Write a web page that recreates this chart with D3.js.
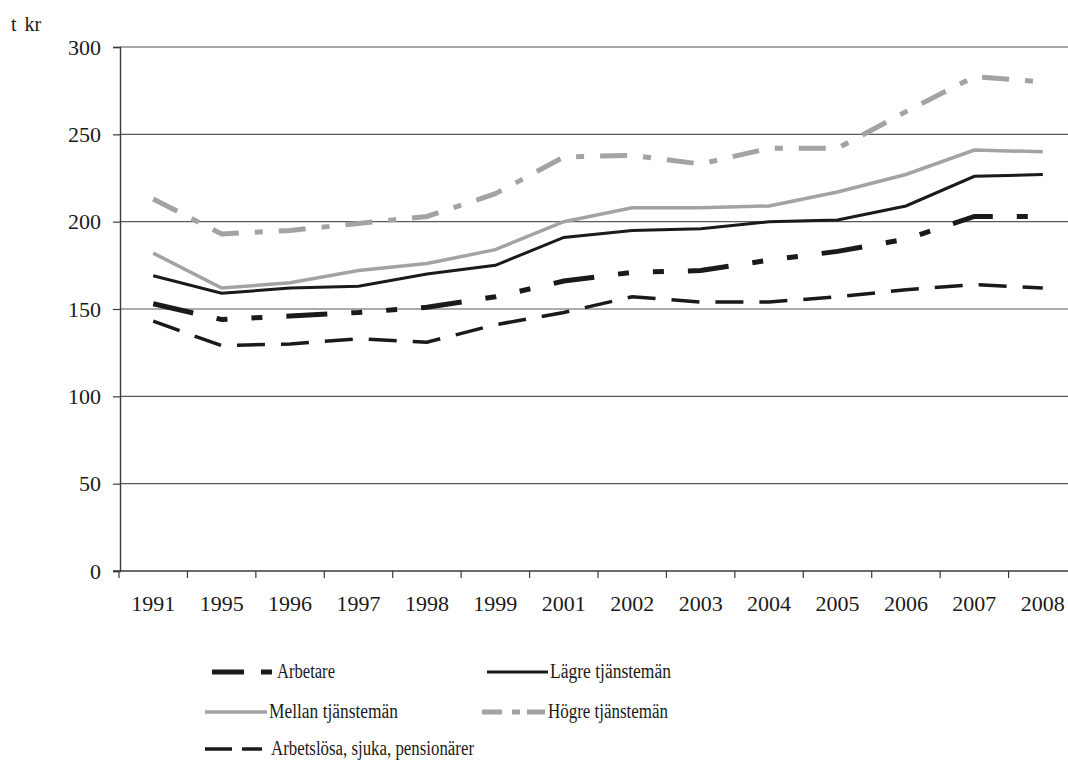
<!DOCTYPE html>
<html><head><meta charset="utf-8">
<script src="https://cdn.jsdelivr.net/npm/d3@7"></script>
<style>
html,body{margin:0;padding:0;background:#fff;}
svg text{font-family:"Liberation Serif","DejaVu Serif",serif;fill:#1a1a1a;}
</style></head>
<body><svg id="chart" width="1068" height="760"></svg>
<script>
const years = ["1991","1995","1996","1997","1998","1999","2001","2002","2003","2004","2005","2006","2007","2008"];
const yTicks = [0,50,100,150,200,250,300];
const arbetare        = [153,144,146,148,151,157,166,171,172,178,183,190,203,203];
const lagre           = [169,159,162,163,170,175,191,195,196,200,201,209,226,227];
const mellan          = [182,162,165,172,176,184,200,208,208,209,217,227,241,240];
const hogre           = [213,193,195,199,203,216,237,238,233,242,242,263,283,280];
const arbetslosa      = [143,129,130,133,131,141,148,157,154,154,157,161,164,162];
const seriesNames = ["Arbetare","Lägre tjänstemän","Mellan tjänstemän","Högre tjänstemän","Arbetslösa, sjuka, pensionärer"];

const series = [
  {name: seriesNames[0], values: arbetare, color:"#1a1a1a", width:5, dash:"41,24,11,24,11,24", legDash:"32,17,11,0", col:0, row:0, lx1:212, lx2:272, tx:277, tw:58},
  {name: seriesNames[1], values: lagre, color:"#1a1a1a", width:3, dash:null, legDash:null, col:1, row:0, lx1:487, lx2:548, tx:550, tw:121},
  {name: seriesNames[2], values: mellan, color:"#a3a3a3", width:3.5, dash:null, legDash:null, col:0, row:1, lx1:205, lx2:267, tx:269, tw:129},
  {name: seriesNames[3], values: hogre, color:"#a3a3a3", width:5, dash:"27,16,8,16", legDash:"20,10,8,7,20", col:1, row:1, lx1:482, lx2:545, tx:548, tw:120},
  {name: seriesNames[4], values: arbetslosa, color:"#1a1a1a", width:3.5, dash:"28,16", legDash:"27,10,22", col:0, row:2, lx1:205, lx2:262, tx:271, tw:203}
];

const svg = d3.select("#chart");
const pLeft = 120, pRight = 1077, pTop = 47, pBottom = 571;

const x = d3.scaleBand().domain(years).range([pLeft-1, pRight]).padding(0);
const y = d3.scaleLinear().domain([0,300]).range([pBottom, pTop]);
const cx = d => x(d) + x.bandwidth()/2;

// gridlines
svg.append("g").selectAll("line").data(yTicks.filter(v => v > 0)).join("line")
  .attr("x1", pLeft).attr("x2", 1068)
  .attr("y1", d => y(d)).attr("y2", d => y(d))
  .attr("stroke", d => d === 300 ? "#a8a8a8" : "#5a5a5a")
  .attr("stroke-width", d => d === 300 ? 2 : 1.2);

// y axis
const yAxis = svg.append("g").attr("transform", `translate(${pLeft},0)`)
  .call(d3.axisLeft(y).tickValues(yTicks).tickSize(7).tickPadding(12));
yAxis.select(".domain").attr("stroke", "#3a3a3a").attr("stroke-width", 1.4);
yAxis.selectAll(".tick line").attr("stroke", "#3a3a3a").attr("stroke-width", 1.2);
yAxis.selectAll(".tick text").attr("font-size", 22).attr("font-family", "Liberation Serif").attr("fill", "#1a1a1a");

// x axis line
svg.append("line").attr("x1", pLeft - 7).attr("x2", 1068).attr("y1", pBottom).attr("y2", pBottom)
  .attr("stroke", "#3a3a3a").attr("stroke-width", 1.4);
// x ticks at band boundaries
svg.append("g").selectAll("line").data(years).join("line")
  .attr("x1", d => x(d)).attr("x2", d => x(d))
  .attr("y1", pBottom).attr("y2", pBottom + 7)
  .attr("stroke", "#3a3a3a").attr("stroke-width", 1.2);
// x labels
svg.append("g").selectAll("text").data(years).join("text")
  .attr("x", cx).attr("y", pBottom + 40)
  .attr("text-anchor", "middle").attr("font-size", 22)
  .text(d => d);

// unit label
svg.append("text").attr("x", 11).attr("y", 31).attr("font-size", 20).attr("word-spacing", 3).text("t kr");

// lines
const line = d3.line().x((d,i) => cx(years[i])).y(d => y(d));
svg.append("g").selectAll("path").data(series).join("path")
  .attr("d", s => line(s.values))
  .attr("fill", "none")
  .attr("stroke", s => s.color)
  .attr("stroke-width", s => s.width)
  .attr("stroke-dasharray", s => s.dash)
  .attr("stroke-linejoin", "miter");

// legend
const legY = [672, 712, 749];
const leg = svg.append("g").selectAll("g").data(series).join("g")
  .attr("transform", s => `translate(0,${legY[s.row]})`);
leg.append("line")
  .attr("x1", s => s.lx1).attr("x2", s => s.lx2)
  .attr("y1", 0).attr("y2", 0)
  .attr("stroke", s => s.color)
  .attr("stroke-width", s => s.width)
  .attr("stroke-dasharray", s => s.legDash);
leg.append("text")
  .attr("x", s => s.tx)
  .attr("y", 6)
  .attr("font-size", 20)
  .attr("textLength", s => s.tw)
  .attr("lengthAdjust", "spacingAndGlyphs")
  .text(s => s.name);
</script></body></html>
